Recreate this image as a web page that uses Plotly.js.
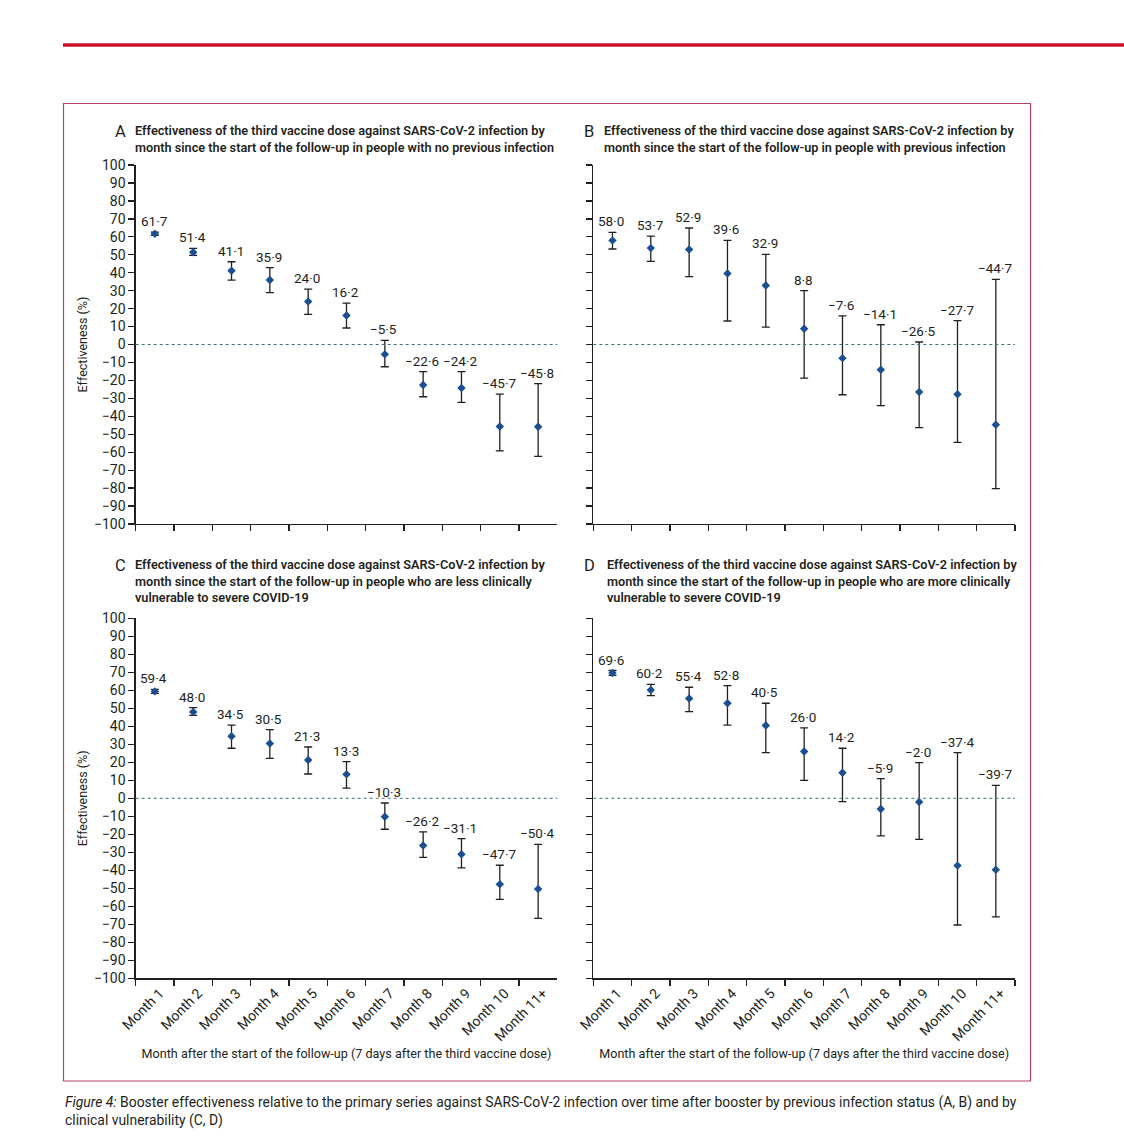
<!DOCTYPE html>
<html>
<head>
<meta charset="utf-8">
<script src="https://cdn.plot.ly/plotly-3.0.1.min.js"></script>
<style>
html,body{margin:0;padding:0;background:#fff;}
#chart{width:1124px;height:1138px;}
</style>
</head>
<body>
<div id="chart"></div>
<script>
// ---- data ----
var months = ["Month 1","Month 2","Month 3","Month 4","Month 5","Month 6","Month 7","Month 8","Month 9","Month 10","Month 11+"];

var aEst  = [61.7, 51.4, 41.1, 35.9, 24.0, 16.2, -5.5, -22.6, -24.2, -45.7, -45.8];
var aLow  = [60.8, 49.7, 35.9, 28.9, 16.8, 9.2, -12.4, -29.1, -32.2, -59.3, -62.3];
var aHigh = [62.6, 53.6, 46.1, 42.8, 30.9, 23.1, 2.3, -15.1, -15.1, -27.6, -21.8];

var bEst  = [58.0, 53.7, 52.9, 39.6, 32.9, 8.8, -7.6, -14.1, -26.5, -27.7, -44.7];
var bLow  = [53.2, 46.3, 37.8, 13.1, 9.7, -18.7, -28.0, -34.1, -46.3, -54.5, -80.3];
var bHigh = [62.5, 60.4, 64.9, 58.0, 50.2, 30.0, 16.0, 11.0, 1.4, 13.3, 36.3];

var cEst  = [59.4, 48.0, 34.5, 30.5, 21.3, 13.3, -10.3, -26.2, -31.1, -47.7, -50.4];
var cLow  = [58.3, 46.1, 27.8, 22.2, 13.5, 5.6, -17.2, -32.8, -38.7, -56.1, -66.7];
var cHigh = [60.5, 50.4, 40.7, 38.1, 28.5, 20.4, -2.6, -18.7, -22.4, -37.2, -25.6];

var dEst  = [69.6, 60.2, 55.4, 52.8, 40.5, 26.0, 14.2, -5.9, -2.0, -37.4, -39.7];
var dLow  = [68.3, 57.0, 48.2, 40.6, 25.4, 10.0, -1.9, -20.9, -22.8, -70.4, -65.9];
var dHigh = [71.0, 63.3, 61.7, 62.6, 52.8, 39.1, 27.8, 10.9, 19.8, 25.4, 7.2];

var panelLetters = ["A","B","C","D"];
var panelTitles = [
  "Effectiveness of the third vaccine dose against SARS-CoV-2 infection by<br>month since the start of the follow-up in people with no previous infection",
  "Effectiveness of the third vaccine dose against SARS-CoV-2 infection by<br>month since the start of the follow-up in people with previous infection",
  "Effectiveness of the third vaccine dose against SARS-CoV-2 infection by<br>month since the start of the follow-up in people who are less clinically<br>vulnerable to severe COVID-19",
  "Effectiveness of the third vaccine dose against SARS-CoV-2 infection by<br>month since the start of the follow-up in people who are more clinically<br>vulnerable to severe COVID-19"
];
var yTitle = "Effectiveness (%)";
var xTitle = "Month after the start of the follow-up (7 days after the third vaccine dose)";
var caption = "<i>Figure 4:</i> Booster effectiveness relative to the primary series against SARS-CoV-2 infection over time after booster by previous infection status (A, B) and by<br>clinical vulnerability (C, D)";

// ---- layout helpers ----
var W = 1124, H = 1138;
function fx(p){ return p / W; }
function fy(p){ return 1 - p / H; }
var FONT = "Roboto, 'Noto Sans', sans-serif";
var TXT = "#231f20";

function fmt(v){
  var s = Math.abs(v).toFixed(1).replace(".", "\u00B7");
  return (v < 0 ? "\u2212" : "") + s;
}

var sets = [[aEst,aLow,aHigh],[bEst,bLow,bHigh],[cEst,cLow,cHigh],[dEst,dLow,dHigh]];
var axIds = ["", "2", "3", "4"];

var traces = [];
var annotations = [];
var shapes = [];

sets.forEach(function(s, i){
  var est = s[0], lo = s[1], hi = s[2];
  traces.push({
    type: "scatter", mode: "markers",
    x: months, y: est,
    xaxis: "x" + axIds[i], yaxis: "y" + axIds[i],
    marker: {symbol: "diamond", size: 6.5, color: "#1b4f92"},
    error_y: {
      type: "data", symmetric: false,
      array: hi.map(function(h, k){ return h - est[k]; }),
      arrayminus: lo.map(function(l, k){ return est[k] - l; }),
      color: "#231f20", thickness: 1.3, width: 4
    },
    hoverinfo: "x+y", showlegend: false, cliponaxis: false
  });
  est.forEach(function(v, k){
    annotations.push({
      xref: "x" + axIds[i], yref: "y" + axIds[i],
      x: months[k], y: hi[k], text: fmt(v), showarrow: false,
      yanchor: "bottom", xanchor: "center", yshift: 1, xshift: -1,
      font: {family: FONT, size: 13.5, color: TXT}
    });
  });
  shapes.push({
    type: "line", xref: "x" + axIds[i] + " domain", yref: "y" + axIds[i],
    x0: 0, x1: 1, y0: 0, y1: 0,
    line: {color: "#3f7380", width: 1, dash: "3px,3px"}
  });
});

// panel geometry (pixels)
var colX = [[135.7, 557.3],[593.3, 1015]];
var rowY = [[165, 524],[618.3, 978.3]];
var titleTop = [121, 121, 555, 555];
var letterX = [113, 582, 113, 582];
var textX = [133, 601.5, 133, 604.5];

var layout = {
  width: W, height: H,
  margin: {l:0, r:0, t:0, b:0},
  paper_bgcolor: "#fff", plot_bgcolor: "rgba(0,0,0,0)",
  font: {family: FONT, size: 14, color: TXT},
  showlegend: false,
  annotations: annotations,
  shapes: shapes
};

for (var i = 0; i < 4; i++){
  var col = i % 2, row = Math.floor(i / 2);
  var xa = {
    domain: [fx(colX[col][0]), fx(colX[col][1])],
    anchor: "y" + axIds[i],
    type: "category", categoryorder: "array", categoryarray: months,
    range: [-0.5, 10.5], tickson: "boundaries",
    showline: true, linecolor: "#231f20", linewidth: 1.3,
    ticks: "outside", ticklen: 6, tickcolor: "#231f20", tickwidth: 1.3,
    showgrid: false, zeroline: false, fixedrange: true,
    showticklabels: row === 1, tickangle: -45, ticklabelshift: 5,
    tickfont: {family: FONT, size: 14, color: TXT}
  };
  if (row === 1){
    xa.title = {text: xTitle, font: {family: FONT, size: 12.6, color: TXT}, standoff: 6};
  }
  var ya = {
    domain: [fy(rowY[row][1]), fy(rowY[row][0])],
    anchor: "x" + axIds[i],
    range: [-100, 100], dtick: 10, tick0: 0,
    showline: true, linecolor: "#231f20", linewidth: 1.3,
    ticks: "outside", ticklen: 6, tickcolor: "#231f20", tickwidth: 1.3,
    showgrid: false, zeroline: false, fixedrange: true,
    showticklabels: col === 0,
    tickfont: {family: FONT, size: 14, color: TXT}
  };
  if (col === 0){
    ya.title = {text: yTitle, font: {family: FONT, size: 12.5, color: TXT}, standoff: 3};
  }
  layout["xaxis" + axIds[i]] = xa;
  layout["yaxis" + axIds[i]] = ya;

  annotations.push({
    xref: "paper", yref: "paper", x: fx(letterX[i]), y: fy(titleTop[i] - 1),
    xanchor: "left", yanchor: "top", showarrow: false, text: panelLetters[i],
    font: {family: FONT, size: 16.5, color: TXT}
  });
  annotations.push({
    xref: "paper", yref: "paper", x: fx(textX[i]), y: fy(titleTop[i]),
    xanchor: "left", yanchor: "top", align: "left", showarrow: false, text: panelTitles[i],
    font: {family: FONT, size: 12.7, color: TXT, weight: 600}
  });
}

// frame and top bar
shapes.push({type: "rect", xref: "paper", yref: "paper",
  x0: fx(63.5), x1: fx(1030.5), y0: fy(1081), y1: fy(103.5),
  line: {color: "#b8445f", width: 1.2}, fillcolor: "rgba(0,0,0,0)"});
shapes.push({type: "line", xref: "paper", yref: "paper",
  x0: fx(63), x1: 1, y0: fy(45), y1: fy(45),
  line: {color: "#c8102e", width: 3.5}});

annotations.push({
  xref: "paper", yref: "paper", x: fx(63), y: fy(1092),
  xanchor: "left", yanchor: "top", align: "left", showarrow: false, text: caption,
  font: {family: FONT, size: 13.9, color: TXT}
});

Plotly.newPlot("chart", traces, layout, {displayModeBar: false, staticPlot: true});
</script>
</body>
</html>
